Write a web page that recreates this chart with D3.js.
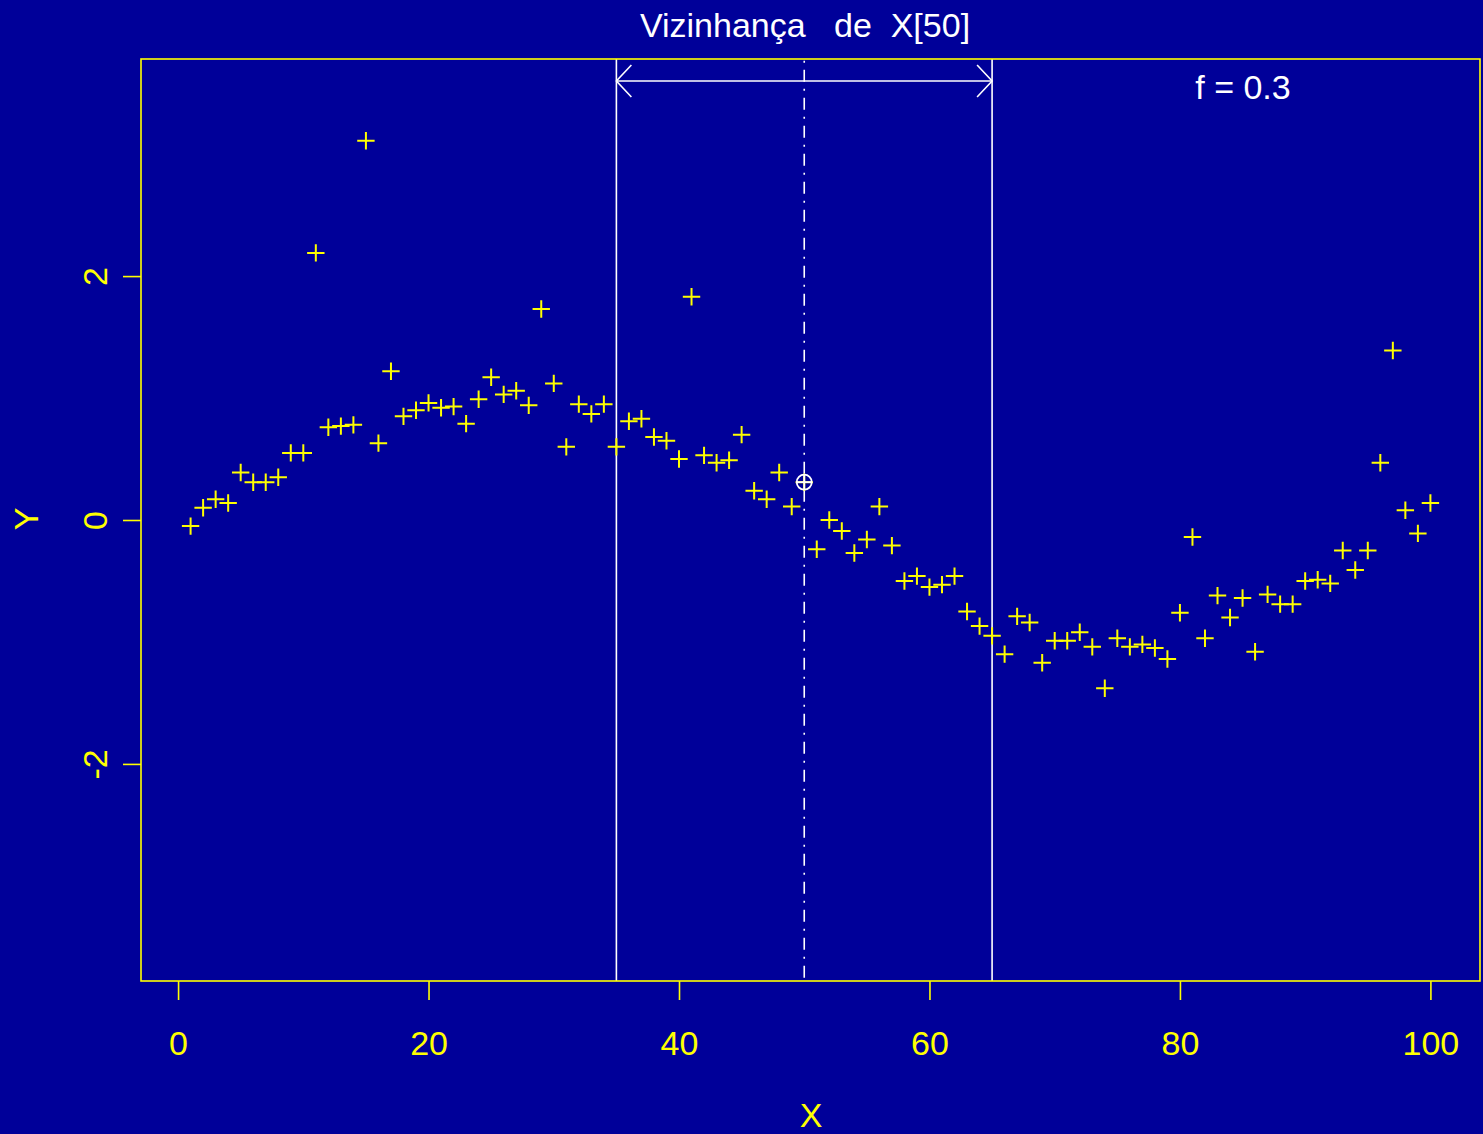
<!DOCTYPE html>
<html>
<head>
<meta charset="utf-8">
<script src="https://cdn.jsdelivr.net/npm/d3@7"></script>
<style>
  html, body { margin: 0; padding: 0; background: #000099; }
  svg { display: block; }
  text { font-family: "Liberation Sans", Arial, Helvetica, sans-serif; }
</style>
</head>
<body>
<svg id="chart" width="1483" height="1134"></svg>
<script>
// Observation index and noisy response
const xValues = d3.range(1, 101);
const yValues = [
  -0.05, 0.10, 0.17, 0.14, 0.39, 0.31, 0.31, 0.35, 0.55, 0.55,
   2.19, 0.76, 0.77, 0.78, 3.11, 0.63, 1.22, 0.85, 0.90, 0.96,
   0.92, 0.93, 0.79, 0.99, 1.17, 1.03, 1.06, 0.94, 1.73, 1.12,
   0.60, 0.95, 0.87, 0.95, 0.60, 0.81, 0.83, 0.68, 0.65, 0.50,
   1.83, 0.53, 0.47, 0.49, 0.70, 0.24, 0.17, 0.39, 0.11, 0.31,
  -0.24, 0.00, -0.09, -0.27, -0.16, 0.11, -0.21, -0.50, -0.46, -0.55,
  -0.53, -0.46, -0.75, -0.87, -0.95, -1.10, -0.79, -0.84, -1.17, -0.99,
  -0.99, -0.92, -1.04, -1.38, -0.97, -1.04, -1.02, -1.05, -1.14, -0.76,
  -0.14, -0.97, -0.62, -0.80, -0.64, -1.08, -0.61, -0.69, -0.69, -0.50,
  -0.49, -0.52, -0.25, -0.41, -0.25, 0.47, 1.39, 0.08, -0.11, 0.14
];
const xTicks = [0, 20, 40, 60, 80, 100];
const yTicks = [-2, 0, 2];

// Neighbourhood of the focal observation
const focus = 50;
const span = 0.3;
const windowLo = 35;
const windowHi = 65;
const arrowLevel = 3.6;

const titleText = "Vizinhança\u00a0\u00a0\u00a0de\u00a0\u00a0X[50]";
const spanLabel = "f = 0.3";

const bg = "#000099";
const fg = "#ffff00";
const white = "#ffffff";

const plot = { left: 141, right: 1480, top: 59, bottom: 981 };

const svg = d3.select("#chart");
svg.append("rect").attr("width", 1483).attr("height", 1134).attr("fill", bg);

// x: data range padded by 4% each side; y: symmetric limits padded by 4%
const xPad = (100 - 1) * 0.04;
const x = d3.scaleLinear().domain([1 - xPad, 100 + xPad]).range([plot.left, plot.right]);
const y = d3.scaleLinear().domain([-3.5 * 1.08, 3.5 * 1.08]).range([plot.bottom, plot.top]);

// Plain hyphen-minus for negative tick labels
const plainNum = d => String(d);

// Window boundaries
svg.selectAll("line.win").data([windowLo, windowHi]).enter().append("line")
  .attr("class", "win")
  .attr("x1", d => x(d)).attr("x2", d => x(d))
  .attr("y1", plot.top).attr("y2", plot.bottom)
  .attr("stroke", white).attr("stroke-width", 1.6);

// Focal vertical (dot-dash)
svg.append("line")
  .attr("x1", x(focus)).attr("x2", x(focus))
  .attr("y1", plot.top).attr("y2", plot.bottom)
  .attr("stroke", white).attr("stroke-width", 1.6)
  .attr("stroke-dasharray", "2,7,12,7")
  .attr("stroke-dashoffset", 26.3);

// Double-headed arrow spanning the window
const ay = y(arrowLevel);
const ah = { dx: 15, dy: 16 };
const arrow = svg.append("g").attr("stroke", white).attr("stroke-width", 1.6).attr("fill", "none");
arrow.append("line").attr("x1", x(windowLo)).attr("x2", x(windowHi)).attr("y1", ay).attr("y2", ay);
arrow.append("path").attr("d",
  `M${x(windowLo) + ah.dx},${ay - ah.dy} L${x(windowLo)},${ay} L${x(windowLo) + ah.dx},${ay + ah.dy}`);
arrow.append("path").attr("d",
  `M${x(windowHi) - ah.dx},${ay - ah.dy} L${x(windowHi)},${ay} L${x(windowHi) - ah.dx},${ay + ah.dy}`);

// Points as plus signs
const arm = 8.7;
const pts = svg.append("g").attr("stroke", fg).attr("stroke-width", 2).attr("fill", "none");
pts.selectAll("path").data(xValues).enter().append("path")
  .attr("d", (d, i) => {
    const cx = x(d), cy = y(yValues[i]);
    return `M${cx - arm},${cy} H${cx + arm} M${cx},${cy - arm} V${cy + arm}`;
  });

// Focal observation: circled plus
const fx = x(focus), fy = y(yValues[focus - 1]);
const fr = 7.5;
const mark = svg.append("g").attr("stroke", white).attr("stroke-width", 1.8).attr("fill", "none");
mark.append("circle").attr("cx", fx).attr("cy", fy).attr("r", fr);
mark.append("path").attr("d", `M${fx - fr},${fy} H${fx + fr} M${fx},${fy - fr} V${fy + fr}`);

// Plot frame
svg.append("rect")
  .attr("x", plot.left).attr("y", plot.top)
  .attr("width", plot.right - plot.left).attr("height", plot.bottom - plot.top)
  .attr("fill", "none").attr("stroke", fg).attr("stroke-width", 1.6);

const fontSize = 34;

// Bottom axis
const gx = svg.append("g").attr("transform", `translate(0,${plot.bottom})`)
  .call(d3.axisBottom(x).tickValues(xTicks).tickSize(19).tickFormat(plainNum));
gx.select(".domain").remove();
gx.selectAll(".tick line").attr("stroke", fg).attr("stroke-width", 1.6);
gx.selectAll(".tick text")
  .attr("fill", fg).attr("font-size", fontSize)
  .attr("font-family", "Liberation Sans, Arial, sans-serif")
  .attr("y", 74).attr("dy", 0);

// Left axis with rotated labels
const gy = svg.append("g").attr("transform", `translate(${plot.left},0)`)
  .call(d3.axisLeft(y).tickValues(yTicks).tickSize(18).tickFormat(plainNum));
gy.select(".domain").remove();
gy.selectAll(".tick line").attr("stroke", fg).attr("stroke-width", 1.6);
gy.selectAll(".tick text")
  .attr("fill", fg).attr("font-size", fontSize)
  .attr("font-family", "Liberation Sans, Arial, sans-serif")
  .attr("x", 0).attr("dy", 0)
  .attr("text-anchor", "middle")
  .attr("transform", "translate(-34,0) rotate(-90)");

// Axis titles
svg.append("text").attr("x", 811).attr("y", 1127)
  .attr("text-anchor", "middle").attr("fill", fg).attr("font-size", fontSize).text("X");
svg.append("text").attr("transform", "translate(38,519) rotate(-90)")
  .attr("text-anchor", "middle").attr("fill", fg).attr("font-size", fontSize).text("Y");

// Title and span label
svg.append("text").attr("x", 805).attr("y", 37)
  .attr("text-anchor", "middle").attr("fill", white).attr("font-size", fontSize).text(titleText);
svg.append("text").attr("x", 1243).attr("y", 99)
  .attr("text-anchor", "middle").attr("fill", white).attr("font-size", fontSize).text(spanLabel);
</script>
</body>
</html>
